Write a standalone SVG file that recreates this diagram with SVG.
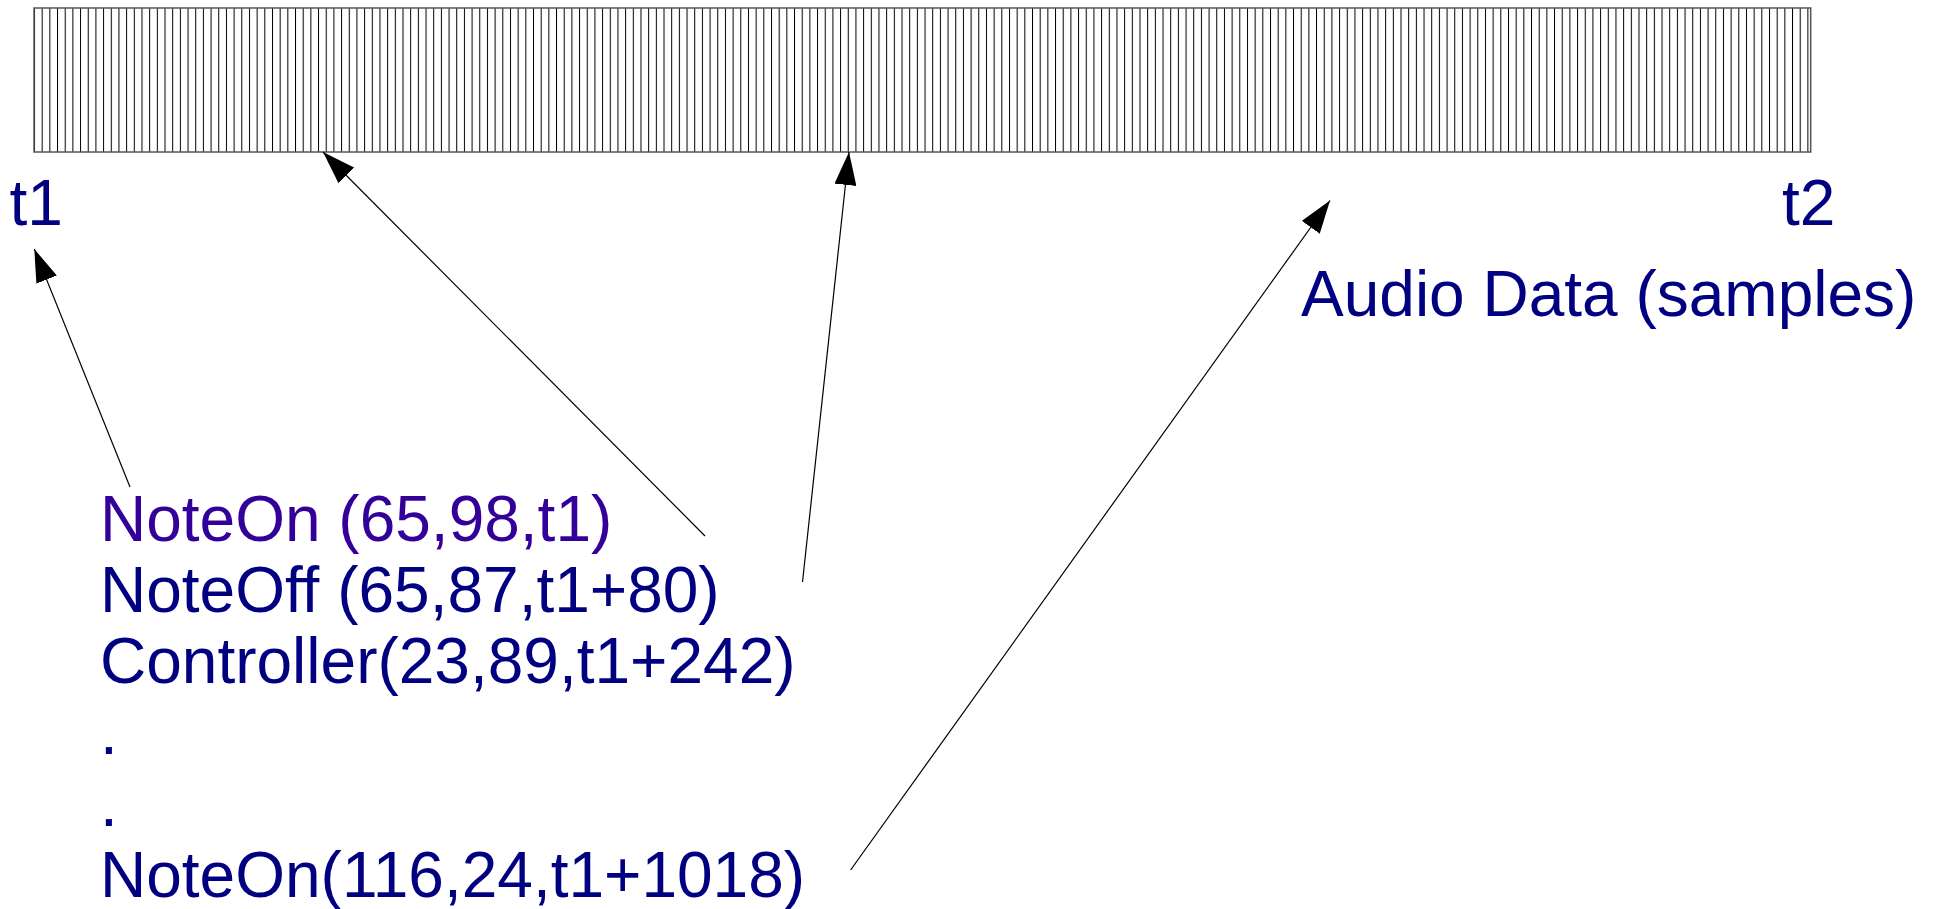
<svg xmlns="http://www.w3.org/2000/svg" width="1933" height="909" viewBox="0 0 1933 909">
  <style>
    .lbl { font-family: "Liberation Sans", Arial, sans-serif; font-size: 64px; fill: #000080; }
    .first { fill: #330099; }
    .conn { stroke: #000; stroke-width: 1.2; fill: none; marker-end: url(#arrow); }
  </style>
  <defs>
    <!-- one vertical tick per audio sample -->
    <pattern id="samples" patternUnits="userSpaceOnUse" x="34" y="8" width="7.677" height="144">
      <rect x="0" y="0" width="1" height="144" fill="#000"/>
    </pattern>
    <marker id="arrow" viewBox="0 0 33 22" refX="33" refY="11" markerWidth="33" markerHeight="22" markerUnits="userSpaceOnUse" orient="auto">
      <path d="M0,0 L33,11 L0,22 z" fill="#000"/>
    </marker>
  </defs>

  <g id="audio-buffer">
    <rect x="34" y="8" width="1776.7" height="144" fill="url(#samples)" stroke="#555" stroke-width="1.5"/>
  </g>

  <g id="t1-label">
    <text class="lbl" x="9.5" y="225">t1</text>
  </g>
  <g id="t2-label">
    <text class="lbl" x="1782" y="225">t2</text>
  </g>
  <g id="audio-label">
    <text class="lbl" x="1301" y="316">Audio Data (samples)</text>
  </g>

  <g id="event-list">
    <text class="lbl first" x="100" y="540.5">NoteOn (65,98,t1)</text>
    <text class="lbl" x="100" y="611.8">NoteOff (65,87,t1+80)</text>
    <text class="lbl" x="100" y="683.1">Controller(23,89,t1+242)</text>
    <text class="lbl" x="100" y="754.4">.</text>
    <text class="lbl" x="100" y="825.7">.</text>
    <text class="lbl" x="100" y="897">NoteOn(116,24,t1+1018)</text>
  </g>

  <g id="connectors">
    <line class="conn" x1="130" y1="487" x2="34.3" y2="249"/>
    <line class="conn" x1="705" y1="536" x2="323" y2="152"/>
    <line class="conn" x1="802.5" y1="582" x2="849" y2="152"/>
    <line class="conn" x1="850.6" y1="870" x2="1330" y2="200.5"/>
  </g>
</svg>
